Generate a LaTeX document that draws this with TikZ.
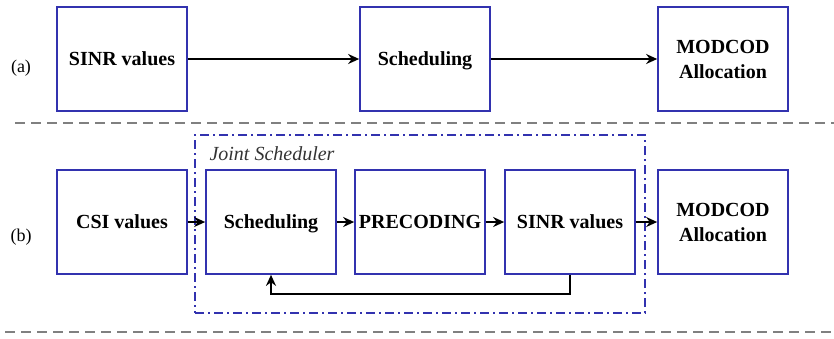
\documentclass[tikz,border=0pt]{standalone}
\usepackage{fontspec}
\setmainfont{Liberation Serif}
\usetikzlibrary{arrows.meta}
\definecolor{boxblue}{RGB}{50,50,175}
\definecolor{sepgray}{RGB}{128,128,128}
\tikzset{
  block/.style={draw=boxblue, line width=1.7pt, minimum width=130pt, minimum height=104pt,
    inner sep=1pt, align=center, font=\fontsize{20}{25}\selectfont\bfseries},
  oneline/.style={text height=14pt, text depth=1pt},
  flow/.style={line width=2.6pt, -{Stealth[length=11pt,width=10pt]}},
  sep/.style={draw=sepgray, line width=1.8pt, dash pattern=on 10pt off 6pt},
  group/.style={draw=boxblue, line width=1.5pt, dash pattern=on 9pt off 4pt on 2pt off 4pt},
  tag/.style={font=\fontsize{18}{21}\selectfont}
}
\begin{document}
\begin{tikzpicture}[x=1pt,y=-1pt]
\useasboundingbox (0,0) rectangle (834,338);

% (a) conventional chain
\node[tag] (la) at (21,68) {(a)};
\node[block, oneline] (sinrA) at (122,59) {SINR values};
\node[block, oneline] (schedA) at (425,59) {Scheduling};
\node[block] (modA) at (723,59) {MODCOD\\Allocation};
\draw[flow] (sinrA) -- (schedA);
\draw[flow] (schedA) -- (modA);

\coordinate (s1l) at (15,123);
\coordinate (s1r) at (834,123);
\draw[sep] (s1l) -- (s1r);

% (b) chain with joint scheduler
\node[tag] (lb) at (21,237) {(b)};
\node[group, minimum width=450pt, minimum height=178pt] (joint) at (420,224) {};
\node[anchor=west, font=\fontsize{20}{24}\selectfont\itshape, text=black!80] (jlabel) at (206,154) {Joint Scheduler};
\node[block, oneline] (csi) at (122,222) {CSI values};
\node[block, oneline] (schedB) at (271,222) {Scheduling};
\node[block, oneline] (prec) at (420,222) {PRECODING};
\node[block, oneline] (sinrB) at (570,222) {SINR values};
\node[block] (modB) at (723,222) {MODCOD\\Allocation};
\draw[flow] (csi) -- (schedB);
\draw[flow] (schedB) -- (prec);
\draw[flow] (prec) -- (sinrB);
\draw[flow] (sinrB) -- (modB);
\draw[flow] (sinrB.south) -- ++(0,19) -| (schedB.south);

\coordinate (s2l) at (5,332);
\coordinate (s2r) at (834,332);
\draw[sep] (s2l) -- (s2r);
\end{tikzpicture}
\end{document}
